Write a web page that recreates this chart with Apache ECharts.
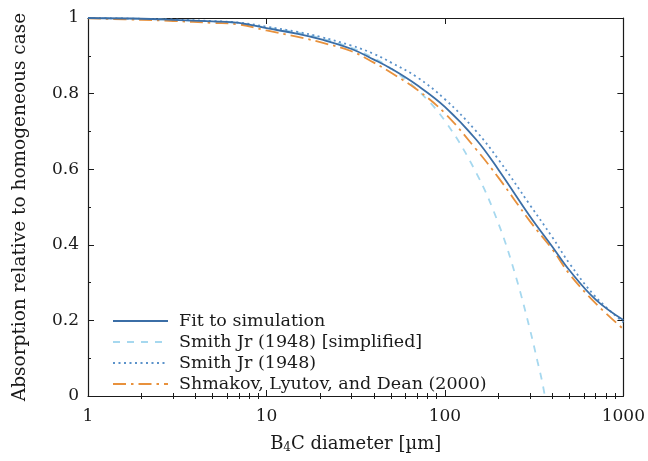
<!DOCTYPE html>
<html lang="en">
<head>
    <meta charset="UTF-8">
    <title>B4C absorption</title>
    <script src="https://cdn.jsdelivr.net/npm/echarts@6/dist/echarts.min.js"></script>
    <style>
        *{
            margin: 0;
            padding: 0;
        }
        body{
            background-color: #fff;
            overflow: hidden;
        }
    </style>
</head>
<body>
<div id="main" style="width:648px;height:461px;"></div>

<script>
    // diameters in µm
    var diameters = [1, 2, 3, 5, 7, 10, 15, 20, 30, 40, 50, 70, 100, 150, 200, 300, 400, 500, 700, 1000];

    var fitSim    = [1.000, 0.998, 0.995, 0.991, 0.987, 0.973, 0.958, 0.944, 0.918, 0.890, 0.866, 0.822, 0.765, 0.678, 0.598, 0.475, 0.395, 0.332, 0.255, 0.201];
    var smith     = [1.000, 0.998, 0.996, 0.992, 0.988, 0.977, 0.963, 0.950, 0.927, 0.905, 0.882, 0.843, 0.785, 0.700, 0.625, 0.505, 0.420, 0.350, 0.262, 0.195];
    var shmakov   = [0.999, 0.995, 0.992, 0.987, 0.983, 0.967, 0.950, 0.936, 0.912, 0.882, 0.855, 0.810, 0.748, 0.652, 0.577, 0.462, 0.388, 0.322, 0.245, 0.177];

    // simplified curve stops where it hits zero
    var simpDiam  = [1, 2, 3, 5, 7, 10, 15, 20, 30, 40, 50, 70, 100, 150, 200, 250, 300, 330, 350, 363];
    var simplified = [1.000, 0.998, 0.995, 0.991, 0.986, 0.975, 0.961, 0.947, 0.921, 0.894, 0.866, 0.810, 0.728, 0.590, 0.455, 0.315, 0.175, 0.092, 0.040, 0.000];

    var seriesNames = ['Fit to simulation', 'Smith Jr (1948) [simplified]', 'Smith Jr (1948)', 'Shmakov, Lyutov, and Dean (2000)'];
    var xTickLabels = [1, 10, 100, 1000];
    var minorX = [2, 3, 4, 5, 6, 7, 8, 9, 20, 30, 40, 50, 60, 70, 80, 90, 200, 300, 400, 500, 600, 700, 800, 900];

    function pairs(xs, ys) {
        var out = [];
        for (var i = 0; i < xs.length; i++) out.push([xs[i], ys[i]]);
        return out;
    }

    var font = 'DejaVu Serif';
    var ink = '#1a1a1a';

    var myChart = echarts.init(document.getElementById('main'));

    function majorX(pos, showLabel) {
        return {
            type: 'log', logBase: 10, min: 1, max: 1000, position: pos,
            axisLine: {show: true, onZero: false, lineStyle: {color: ink, width: 1.2}},
            axisTick: {show: true, inside: true, length: 6, lineStyle: {color: ink}},
            axisLabel: {show: showLabel, color: ink, fontFamily: font, fontSize: 17, margin: 12,
                formatter: function (v) { return xTickLabels.indexOf(v) >= 0 ? String(v) : ''; }},
            splitLine: {show: false}
        };
    }
    function minorXAxis(pos) {
        return {
            type: 'value', min: 0, max: 3, position: pos,
            axisLine: {show: false},
            axisTick: {show: true, inside: true, length: 3, lineStyle: {color: ink},
                customValues: minorX.map(function (v) { return Math.log10(v); })},
            axisLabel: {show: false},
            splitLine: {show: false}
        };
    }
    function yAx(pos, showLabel) {
        return {
            type: 'value', min: 0, max: 1, interval: 0.2, position: pos,
            axisLine: {show: true, onZero: false, lineStyle: {color: ink, width: 1.2}},
            axisTick: {show: true, inside: true, length: 6, lineStyle: {color: ink}},
            minorTick: {show: true, splitNumber: 2, length: 3, lineStyle: {color: ink}},
            axisLabel: {show: showLabel, color: ink, fontFamily: font, fontSize: 17, margin: 9},
            splitLine: {show: false}
        };
    }

    var xMain = majorX('bottom', true);
    xMain.name = 'B{sub|4}C diameter [µm]';
    xMain.nameLocation = 'middle';
    xMain.nameGap = 38;
    xMain.nameTextStyle = {color: ink, fontFamily: font, fontSize: 18,
        rich: {sub: {fontFamily: font, fontSize: 12, verticalAlign: 'bottom', padding: [8, 0, 0, 0], color: ink}}};

    var yMain = yAx('left', true);
    yMain.name = 'Absorption relative to homogeneous case';
    yMain.nameLocation = 'middle';
    yMain.nameGap = 58;
    yMain.nameTextStyle = {color: ink, fontFamily: font, fontSize: 18.5};

    var option = {
        animation: false,
        grid: {left: 88, right: 21, top: 18, bottom: 65},
        xAxis: [xMain, majorX('top', false), minorXAxis('bottom'), minorXAxis('top')],
        yAxis: [yMain, yAx('right', false)],
        legend: {
            left: 107, top: 307, orient: 'vertical',
            itemWidth: 55, itemHeight: 14, itemGap: 3,
            itemStyle: {opacity: 0},
            textStyle: {color: ink, fontFamily: font, fontSize: 17.5, padding: [0, 0, 0, 6]},
            data: seriesNames
        },
        series: [
            {
                name: seriesNames[0], type: 'line', xAxisIndex: 0, yAxisIndex: 0,
                showSymbol: false, symbol: 'none', smooth: 0.4, z: 5,
                lineStyle: {color: '#3b6ea6', width: 1.8, type: 'solid'},
                itemStyle: {color: '#3b6ea6'},
                data: pairs(diameters, fitSim)
            },
            {
                name: seriesNames[1], type: 'line', xAxisIndex: 0, yAxisIndex: 0,
                showSymbol: false, symbol: 'none', smooth: 0.4, z: 3,
                lineStyle: {color: '#a6d8ef', width: 1.8, type: [7, 7]},
                itemStyle: {color: '#a6d8ef'},
                data: pairs(simpDiam, simplified)
            },
            {
                name: seriesNames[2], type: 'line', xAxisIndex: 0, yAxisIndex: 0,
                showSymbol: false, symbol: 'none', smooth: 0.4, z: 4,
                lineStyle: {color: '#5b92ca', width: 1.8, type: [2, 3.5]},
                itemStyle: {color: '#5b92ca'},
                data: pairs(diameters, smith)
            },
            {
                name: seriesNames[3], type: 'line', xAxisIndex: 0, yAxisIndex: 0,
                showSymbol: false, symbol: 'none', smooth: 0.4, z: 4,
                lineStyle: {color: '#e8913c', width: 1.8, type: [13, 5, 2.5, 5]},
                itemStyle: {color: '#e8913c'},
                data: pairs(diameters, shmakov)
            }
        ]
    };

    myChart.setOption(option);
    window.onresize = myChart.resize;
</script>
</body>
</html>
